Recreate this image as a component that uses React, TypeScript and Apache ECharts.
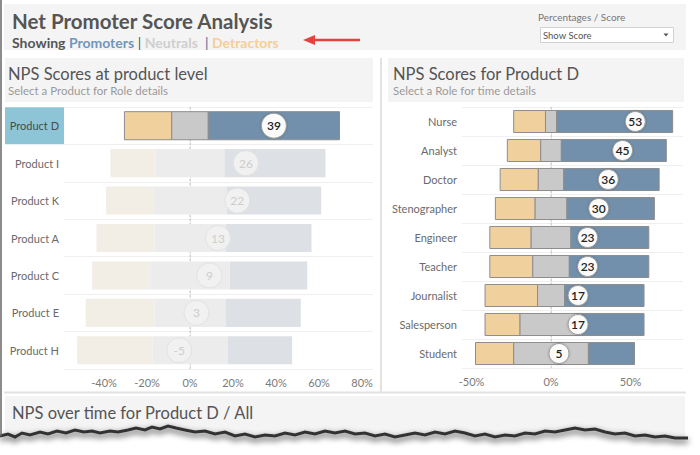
import React, { useEffect, useRef } from "react";
import * as echarts from "echarts";

// ---- Data ----
const products = ["Product D", "Product I", "Product K", "Product A", "Product C", "Product E", "Product H"];
const productDetractors = [22, 21, 22, 27, 27, 32, 35];
const productNeutrals = [17, 32, 34, 33, 37, 33, 35];
const productPromoters = [61, 47, 44, 40, 36, 35, 30];
const productNps = [39, 26, 22, 13, 9, 3, -5];
const selectedProduct = "Product D";

const roles = ["Nurse", "Analyst", "Doctor", "Stenographer", "Engineer", "Teacher", "Journalist", "Salesperson", "Student"];
const roleDetractors = [20, 21, 24, 25, 26, 27, 33, 22, 24];
const roleNeutrals = [7, 13, 16, 20, 25, 23, 17, 39, 47];
const rolePromoters = [73, 66, 60, 55, 49, 50, 50, 39, 29];
const roleNps = [53, 45, 36, 30, 23, 23, 17, 17, 5];

const productTicks = [-40, -20, 0, 20, 40, 60, 80];
const roleTicks = [-50, 0, 50];

const FONT = "Lato, 'Open Sans', sans-serif";
const STRONG = ["#f0d19e", "#c9c9c9", "#7290ab"];
const FADED = ["#f2eee6", "#ececec", "#dde0e4"];

const renderNps = (ratio: number, radius: number, fontSize: number) => (params: any, api: any) => {
  const cat = api.value(0);
  const d = api.value(1), n = api.value(2), p = api.value(3), s = api.value(4);
  const faded = api.value(5) === 1;
  const band = api.size([0, 1])[1];
  const h = band * ratio;
  const pt = (v: number) => api.coord([v, cat]);
  const [x0, yc] = pt(-(n / 2 + d));
  const x1 = pt(-n / 2)[0];
  const x2 = pt(n / 2)[0];
  const x3 = pt(n / 2 + p)[0];
  const xs = pt(s)[0];
  const top = yc - h / 2;
  const cols = faded ? FADED : STRONG;
  const rect = (xa: number, xb: number, fill: string) => ({
    type: "rect",
    shape: { x: xa, y: top, width: xb - xa, height: h },
    style: faded ? { fill } : { fill, stroke: "#8d8d8d", lineWidth: 1 },
  });
  return {
    type: "group",
    children: [
      rect(x0, x1, cols[0]),
      rect(x1, x2, cols[1]),
      rect(x2, x3, cols[2]),
      {
        type: "circle",
        shape: { cx: xs, cy: yc, r: radius },
        style: faded
          ? { fill: "#f1f1f1", stroke: "#e2e2e2", lineWidth: 1 }
          : { fill: "#fbfbfb", stroke: "#9a9a9a", lineWidth: 1, shadowBlur: 2, shadowColor: "rgba(0,0,0,0.25)" },
      },
      {
        type: "text",
        x: xs,
        y: yc,
        style: {
          text: String(s),
          align: "center",
          verticalAlign: "middle",
          fill: faded ? "#cdcdcd" : "#222222",
          fontSize,
          fontFamily: FONT,
          fontWeight: faded ? "normal" : 600,
        },
      },
    ],
  };
};

const zeroLine = (params: any, api: any) => {
  const cs = params.coordSys;
  const x = api.coord([0, 0])[0];
  return {
    type: "line",
    shape: { x1: x, y1: cs.y, x2: x, y2: cs.y + cs.height },
    style: { stroke: "#c8c8c8", lineWidth: 1, lineDash: [2, 2] },
  };
};

const torn: number[][] = [
  [0, 436], [8, 434], [15, 437], [22, 433], [30, 435], [40, 432], [48, 434], [57, 431], [66, 433], [75, 430],
  [84, 432], [92, 431], [100, 433], [110, 431], [118, 432], [128, 430], [136, 428], [145, 430], [152, 427],
  [160, 429], [168, 426], [176, 428], [185, 430], [195, 432], [205, 431], [215, 434], [225, 432], [235, 436],
  [245, 434], [255, 437], [265, 435], [275, 436], [285, 433], [295, 435], [305, 432], [315, 434], [325, 431],
  [335, 433], [345, 431], [355, 434], [365, 433], [375, 436], [385, 434], [395, 437], [405, 435], [415, 433],
  [425, 435], [435, 432], [445, 434], [455, 431], [465, 433], [475, 436], [485, 434], [495, 437], [505, 435],
  [515, 436], [525, 433], [535, 434], [545, 431], [555, 432], [565, 430], [575, 428], [585, 430], [595, 429],
  [605, 432], [615, 434], [625, 433], [635, 436], [645, 435], [655, 437], [665, 436], [675, 438], [688, 438],
];

export default function App() {
  const ref = useRef<HTMLDivElement>(null);
  useEffect(() => {
    document.body.style.margin = "0";
    const chart = echarts.init(ref.current!, null, { renderer: "svg" });
    const productData = products.map((p, i) => [
      i, productDetractors[i], productNeutrals[i], productPromoters[i], productNps[i], p === selectedProduct ? 0 : 1,
    ]);
    const roleData = roles.map((r, i) => [i, roleDetractors[i], roleNeutrals[i], rolePromoters[i], roleNps[i], 0]);

    const catAxisBase = {
      type: "category",
      inverse: true,
      axisLine: { show: true, lineStyle: { color: "#e4e4e4" } },
      axisTick: { show: false },
      splitLine: { show: true, lineStyle: { color: "#efefef" } },
    };
    const valAxisBase = {
      type: "value",
      axisLine: { show: false },
      splitLine: { show: false },
    };

    const tornWhite = [...torn.map(([x, y]) => [x, y + 1]), [700, 438], [700, 455], [0, 455]];

    chart.setOption({
      animation: false,
      backgroundColor: "#ffffff",
      textStyle: { fontFamily: FONT },
      grid: [
        { left: 64, top: 107, width: 309, height: 262 },
        { left: 462, top: 107, width: 221, height: 261 },
      ],
      xAxis: [
        {
          ...valAxisBase,
          gridIndex: 0,
          min: -58.6,
          max: 85.1,
          axisTick: { show: false, customValues: productTicks },
          axisLabel: {
            customValues: productTicks,
            formatter: (v: number) => `${v}%`,
            color: "#7a7a7a",
            fontSize: 11,
            margin: 8,
            fontFamily: FONT,
          },
        },
        {
          ...valAxisBase,
          gridIndex: 1,
          min: -56,
          max: 83,
          axisTick: { show: false, customValues: roleTicks },
          axisLabel: {
            customValues: roleTicks,
            formatter: (v: number) => `${v}%`,
            color: "#7a7a7a",
            fontSize: 11,
            margin: 8,
            fontFamily: FONT,
          },
        },
      ],
      yAxis: [
        {
          ...catAxisBase,
          gridIndex: 0,
          data: products,
          axisLabel: {
            margin: 0,
            formatter: (v: string) => (v === selectedProduct ? `{sel|${v}}` : `{n|${v}}`),
            rich: {
              sel: {
                width: 54,
                height: 37,
                lineHeight: 37,
                align: "right",
                backgroundColor: "#8ec5d6",
                padding: [0, 5, 0, 0],
                color: "#4a4a4a",
                fontSize: 11,
                fontFamily: FONT,
              },
              n: { padding: [0, 5, 0, 0], color: "#6a6a6a", fontSize: 11, fontFamily: FONT },
            },
          },
        },
        {
          ...catAxisBase,
          gridIndex: 1,
          data: roles,
          axisLabel: { margin: 5, color: "#6a6a6a", fontSize: 11, fontFamily: FONT },
        },
      ],
      series: [
        { type: "custom", xAxisIndex: 0, yAxisIndex: 0, z: 1, data: [[0, 0]], renderItem: zeroLine, silent: true },
        { type: "custom", xAxisIndex: 1, yAxisIndex: 1, z: 1, data: [[0, 0]], renderItem: zeroLine, silent: true },
        {
          type: "custom",
          name: "Products",
          xAxisIndex: 0,
          yAxisIndex: 0,
          z: 2,
          data: productData,
          encode: { x: 4, y: 0 },
          renderItem: renderNps(0.75, 12.5, 12),
        },
        {
          type: "custom",
          name: "Roles",
          xAxisIndex: 1,
          yAxisIndex: 1,
          z: 2,
          data: roleData,
          encode: { x: 4, y: 0 },
          renderItem: renderNps(0.76, 10, 12),
        },
      ],
      graphic: [
        // backgrounds (behind)
        { type: "rect", z: -10, shape: { x: 4, y: 4, width: 682, height: 46 }, style: { fill: "#f4f4f4" } },
        { type: "rect", z: -10, shape: { x: 5, y: 58, width: 368, height: 44 }, style: { fill: "#f4f4f4" } },
        { type: "rect", z: -10, shape: { x: 388, y: 58, width: 296, height: 44 }, style: { fill: "#f4f4f4" } },
        { type: "rect", z: -10, shape: { x: 5, y: 396, width: 680, height: 45 }, style: { fill: "#f4f4f4" } },
        { type: "line", z: -10, shape: { x1: 381, y1: 58, x2: 381, y2: 392 }, style: { stroke: "#e2e2e2", lineWidth: 2 } },
        { type: "line", z: -10, shape: { x1: 4, y1: 392.5, x2: 686, y2: 392.5 }, style: { stroke: "#e2e2e2", lineWidth: 2 } },
        // header texts
        {
          type: "text",
          x: 12,
          y: 21,
          style: { text: "Net Promoter Score Analysis", fill: "#555555", fontSize: 20.5, fontFamily: FONT, fontWeight: "bold", verticalAlign: "middle" },
        },
        {
          type: "text",
          x: 12,
          y: 42,
          style: {
            text: "{a|Showing }{b|Promoters}{c| | }{d|Neutrals}{e|  | }{f|Detractors}",
            verticalAlign: "middle",
            fontSize: 14,
            fontFamily: FONT,
            fontWeight: "bold",
            rich: {
              a: { fill: "#555555", fontSize: 14, fontWeight: "bold", fontFamily: FONT },
              b: { fill: "#7096bd", fontSize: 14, fontWeight: "bold", fontFamily: FONT },
              c: { fill: "#555555", fontSize: 14, fontWeight: "normal", fontFamily: FONT },
              d: { fill: "#cfcfcf", fontSize: 14, fontWeight: "bold", fontFamily: FONT },
              e: { fill: "#4d6e99", fontSize: 14, fontWeight: "normal", fontFamily: FONT },
              f: { fill: "#f5cf95", fontSize: 14, fontWeight: "bold", fontFamily: FONT },
            },
          },
        },
        // red arrow
        { type: "line", shape: { x1: 312, y1: 40, x2: 360, y2: 40 }, style: { stroke: "#e5423d", lineWidth: 2.5 } },
        { type: "polygon", shape: { points: [[303, 40], [315, 35], [315, 45]] }, style: { fill: "#e5423d" } },
        // dropdown
        { type: "text", x: 538, y: 17, style: { text: "Percentages / Score", fill: "#777777", fontSize: 10, fontFamily: FONT, verticalAlign: "middle" } },
        { type: "rect", shape: { x: 540.5, y: 27.5, width: 133, height: 15 }, style: { fill: "#ffffff", stroke: "#d2d2d2", lineWidth: 1 } },
        { type: "text", x: 543, y: 35, style: { text: "Show Score", fill: "#555555", fontSize: 9.5, fontFamily: FONT, verticalAlign: "middle" } },
        { type: "polygon", shape: { points: [[663.5, 33.5], [668.5, 33.5], [666, 36.5]] }, style: { fill: "#555555" } },
        // panel titles
        { type: "text", x: 8, y: 74, style: { text: "NPS Scores at product level", fill: "#555555", fontSize: 16.5, fontFamily: FONT, verticalAlign: "middle" } },
        { type: "text", x: 8, y: 90, style: { text: "Select a Product for Role details", fill: "#9a9a9a", fontSize: 11.5, fontFamily: FONT, verticalAlign: "middle" } },
        { type: "text", x: 393, y: 74, style: { text: "NPS Scores for Product D", fill: "#555555", fontSize: 16.5, fontFamily: FONT, verticalAlign: "middle" } },
        { type: "text", x: 393, y: 90, style: { text: "Select a Role for time details", fill: "#9a9a9a", fontSize: 11.5, fontFamily: FONT, verticalAlign: "middle" } },
        { type: "text", x: 12, y: 413, style: { text: "NPS over time for Product D / All", fill: "#555555", fontSize: 16.5, fontFamily: FONT, verticalAlign: "middle" } },
        // frame: right side white + shadow edge
        { type: "rect", z: 50, shape: { x: 688, y: 0, width: 12, height: 455 }, style: { fill: "#ffffff" } },
        // torn bottom
        { type: "polygon", z: 50, shape: { points: tornWhite }, style: { fill: "#ffffff" } },
        {
          type: "polyline",
          z: 51,
          shape: { points: torn },
          style: { stroke: "#333333", lineWidth: 3, fill: null, shadowBlur: 6, shadowOffsetY: 3, shadowColor: "rgba(0,0,0,0.8)" },
        },
        {
          type: "line",
          z: 51,
          shape: { x1: 687, y1: 0, x2: 687, y2: 438 },
          style: { stroke: "#333333", lineWidth: 2.5, shadowBlur: 6, shadowOffsetX: 3, shadowColor: "rgba(0,0,0,0.8)" },
        },
        { type: "line", z: 51, shape: { x1: 1, y1: 0, x2: 1, y2: 436 }, style: { stroke: "#666666", lineWidth: 1.5 } },
      ],
    });
    return () => chart.dispose();
  }, []);
  return <div ref={ref} style={{ width: 700, height: 455 }} />;
}
